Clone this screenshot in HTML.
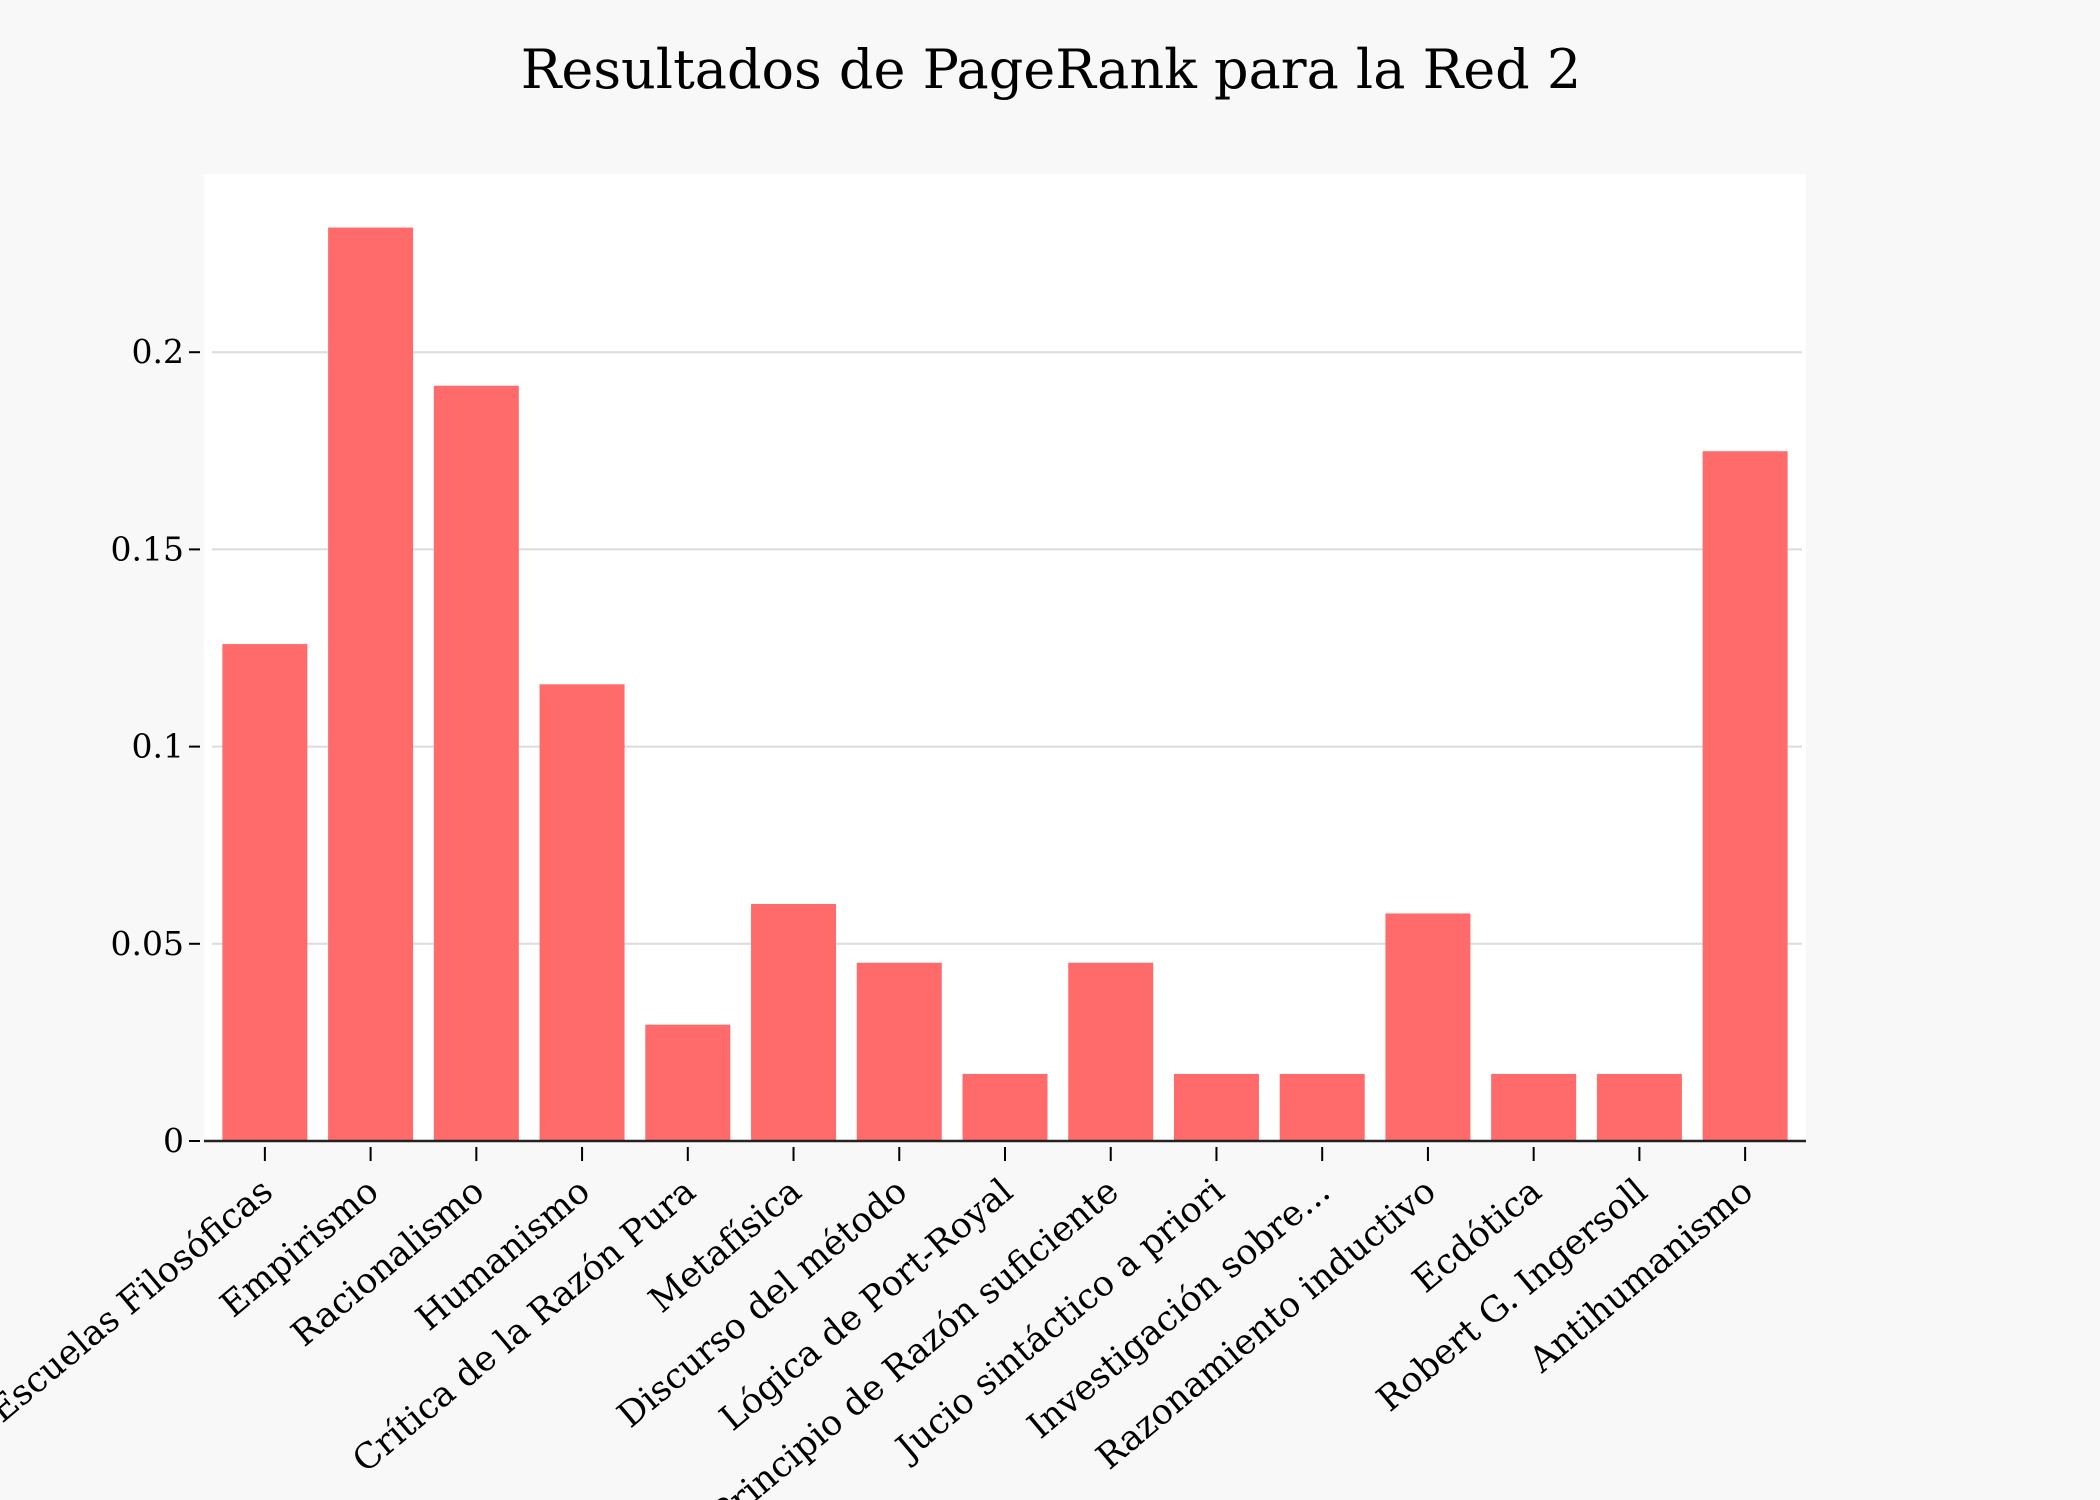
<!DOCTYPE html>
<html><head><meta charset="utf-8"><style>
body{margin:0;background:#f8f8f8;}
svg{display:block;font-family:"DejaVu Serif","Liberation Serif",serif;}
</style></head><body>
<svg id="chart" width="2100" height="1500">
<rect x="0" y="0" width="2100" height="1500" fill="#f8f8f8"/>
<text x="1051" y="88" text-anchor="middle" font-size="54" fill="#000">Resultados de PageRank para la Red 2</text>
<rect x="204" y="174" width="1602" height="967" fill="#fff"/>
<g id="grid"></g><g id="bars"></g><g id="yaxis"></g><g id="xaxis"></g>
</svg>
<script>
const categories = ["Escuelas Filosóficas","Empirismo","Racionalismo","Humanismo","Crítica de la Razón Pura","Metafísica","Discurso del método","Lógica de Port-Royal","Principio de Razón suficiente","Jucio sintáctico a priori","Investigación sobre...","Razonamiento inductivo","Ecdótica","Robert G. Ingersoll","Antihumanismo"];
const values = [0.126,0.2316,0.1915,0.1158,0.0295,0.0601,0.0452,0.017,0.0452,0.017,0.017,0.0577,0.017,0.017,0.1749];
const yTicks = [0,0.05,0.1,0.15,0.2];
const yTickLabels = ["0","0.05","0.1","0.15","0.2"];

const NS="http://www.w3.org/2000/svg";
const plotL=204, plotR=1806, y0=1141, pxPerUnit=3944;
const step=(plotR-plotL-16)/categories.length, barW=85;
const yScale=v=>y0-v*pxPerUnit;
const xCenter=i=>plotL+8+step*(i+0.5);
function mk(tag,attrs,parent){const e=document.createElementNS(NS,tag);for(const k in attrs)e.setAttribute(k,attrs[k]);parent.appendChild(e);return e;}
const grid=document.getElementById('grid'),bars=document.getElementById('bars'),ya=document.getElementById('yaxis'),xa=document.getElementById('xaxis');
yTicks.forEach((t,i)=>{
  const y=yScale(t);
  if(t>0){const g=mk('line',{x1:plotL+8,x2:plotR-4,y1:y,y2:y,stroke:'#dcdcdc','stroke-width':2},grid);
  
  }
  const tk=mk('line',{x1:189,x2:200,y1:y,y2:y,stroke:'#000','stroke-width':2},ya);
  
  
  const tx=mk('text',{x:184,y:y+11,'text-anchor':'end','font-size':33,fill:'#000'},ya);
  tx.textContent=yTickLabels[i];
  
  
});
values.forEach((v,i)=>{
  const y=yScale(v);
  const r=mk('rect',{x:xCenter(i)-barW/2,y:y,width:barW,height:y0-y,fill:'#ff6b6b'},bars);
  
  
});
const ax=mk('line',{x1:plotL,x2:plotR,y1:y0,y2:y0,stroke:'#222','stroke-width':2.5},xa);


categories.forEach((c,i)=>{
  const x=xCenter(i);
  const tk=mk('line',{x1:x,x2:x,y1:y0+6,y2:y0+20,stroke:'#000','stroke-width':2},xa);
  
  
  const tx=mk('text',{x:x+10,y:y0+54,'text-anchor':'end','font-size':35,fill:'#000',transform:`rotate(-40 ${x+10} ${y0+54})`},xa);
  tx.textContent=c;
  
  
});
</script>
</body></html>
